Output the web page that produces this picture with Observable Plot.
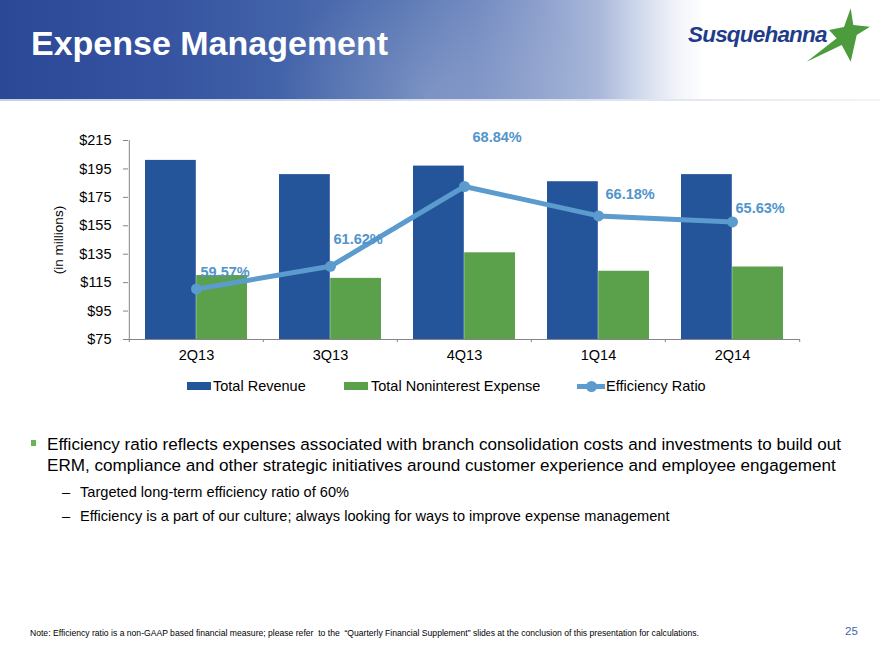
<!DOCTYPE html>
<html>
<head>
<meta charset="utf-8">
<script src="https://cdn.jsdelivr.net/npm/d3@7"></script>
<script src="https://cdn.jsdelivr.net/npm/@observablehq/plot@0.6"></script>
<style>
  body { margin: 0; background: #fff; }
  #slide { position: relative; width: 880px; height: 660px; overflow: hidden;
           font-family: "Liberation Sans", Arial, Helvetica, sans-serif; color: #000; background: #fff; }
  #banner { position: absolute; left: 0; top: 0; width: 880px; height: 100px;
            background: linear-gradient(90deg, #2a4896 0%, #3553a0 18%, #4262a9 32%, #5674b2 45%, #6e87bf 54%,
                        #8c9fcc 61%, #a9b8da 68%, #d3dbed 73%, #f2f4fa 77%, #ffffff 80%, #ffffff 100%); }
  #bannerGlow { position: absolute; left: 0; top: 0; width: 880px; height: 100px;
            background: radial-gradient(ellipse 160px 120px at 430px 95px, rgba(255,255,255,0.18), rgba(255,255,255,0)); }
  #bannerRule { position: absolute; left: 0; top: 99px; width: 880px; height: 2px;
            background: linear-gradient(90deg, #c7d0e4 0%, #dde3ef 70%, #f4f4f4 100%); }
  #title { position: absolute; left: 31px; top: 26px; font-size: 34px; line-height: 1; font-weight: bold; color: #fff; white-space: nowrap; }
  #logoText { position: absolute; left: 688px; top: 24px; font-size: 22.5px; line-height: 1; font-weight: bold;
              font-style: italic; color: #1f3c8a; letter-spacing: -0.8px; white-space: nowrap; }
  #logoStar { position: absolute; left: 0; top: 0; }
  #chart { position: absolute; left: 0; top: 110px; }
  #ylabel { position: absolute; left: 59px; top: 240px; font-size: 13.5px; line-height: 1; white-space: nowrap;
            transform: translate(-50%, -50%) rotate(-90deg); }
  .leg { position: absolute; top: 379px; font-size: 14.5px; line-height: 1; white-space: nowrap; }
  .sw { position: absolute; }
  #bul1 { position: absolute; left: 47px; top: 434px; font-size: 17.1px; line-height: 21px; white-space: nowrap; }
  #sq { position: absolute; left: 31px; top: 440px; width: 5px; height: 6px; background: #6ab356; }
  .sub { position: absolute; font-size: 14.6px; line-height: 1; white-space: nowrap; }
  #note { position: absolute; left: 30px; top: 629px; font-size: 8.6px; line-height: 1; white-space: pre; color: #000; }
  #page { position: absolute; left: 845px; top: 626px; font-size: 11.5px; line-height: 1; color: #3d64b0; }
</style>
</head>
<body>
<div id="slide">
  <div id="banner"></div>
  <div id="bannerGlow"></div>
  <div id="bannerRule"></div>
  <div id="title">Expense Management</div>
  <div id="logoText">Susquehanna</div>
  <svg id="logoStar" width="880" height="100">
    <polygon points="850.7,8.3 853.3,25 870,26.7 856.7,35 850.7,61.7 841.7,45 806.7,61.7 836.7,38.3 829,30 844,27"
             fill="#4c9b3c"/>
  </svg>
  <div id="chart"></div>
  <div id="ylabel">(in millions)</div>

  <div class="sw" style="left:187px;top:382px;width:23.5px;height:8px;background:#24549a"></div>
  <div class="leg" style="left:213px">Total Revenue</div>
  <div class="sw" style="left:344px;top:382px;width:24px;height:8px;background:#5ba14b"></div>
  <div class="leg" style="left:371px">Total Noninterest Expense</div>
  <div class="sw" style="left:577px;top:383.5px;width:28px;height:5px;background:#5b9bce"></div>
  <div class="sw" style="left:586px;top:380.5px;width:11px;height:11px;border-radius:50%;background:#5b9bce"></div>
  <div class="leg" style="left:606px">Efficiency Ratio</div>

  <div id="sq"></div>
  <div id="bul1">Efficiency ratio reflects expenses associated with branch consolidation costs and investments to build out<br>ERM, compliance and other strategic initiatives around customer experience and employee engagement</div>
  <div class="sub" style="left:62px;top:485px">–</div>
  <div class="sub" style="left:80px;top:485px">Targeted long-term efficiency ratio of 60%</div>
  <div class="sub" style="left:62px;top:509px">–</div>
  <div class="sub" style="left:80px;top:509px">Efficiency is a part of our culture; always looking for ways to improve expense management</div>

  <div id="note">Note: Efficiency ratio is a non-GAAP based financial measure; please refer  to the  “Quarterly Financial Supplement” slides at the conclusion of this presentation for calculations.</div>
  <div id="page">25</div>
</div>
<script>
// Quarterly figures ($ millions) and efficiency ratio (%)
const quarters = ["2Q13", "3Q13", "4Q13", "1Q14", "2Q14"];
const totalRevenue = [201, 191, 197, 186, 191];
const noninterestExpense = [120, 118, 136, 123, 126];
const efficiencyRatio = [59.57, 61.62, 68.84, 66.18, 65.63];
const dollarTicks = [75, 95, 115, 135, 155, 175, 195, 215];
const dollarDomain = [75, 215];
const ratioDomain = [55, 73]; // secondary (hidden) axis for the ratio line

// label nudges for the ratio labels, in pixels
const labelDx = [4, 3, 8, 7, 3];
const labelDy = [-17, -27, -49, -22, -14];

const blue = "#24549a", green = "#5ba14b", lineBlue = "#5b9bce", labelBlue = "#5294cb", axisGray = "#858585";

const rows = quarters.map((q, i) => ({
  q, revenue: totalRevenue[i], expense: noninterestExpense[i], ratio: efficiencyRatio[i]
}));

// map the ratio onto the dollar axis range (dual-axis chart)
const ratioToDollar = d3.scaleLinear().domain(ratioDomain).range(dollarDomain);

const W = 880, H = 290, mL = 128, mR = 80, mT = 30, mB = 61;
const bw = (W - mL - mR) / quarters.length;
const plotH = H - mT - mB;
const tickDown = 3 * (dollarDomain[1] - dollarDomain[0]) / plotH;

const ratioLabels = rows.map((d, i) => Plot.text([d], {
  x: "q", y: (r) => ratioToDollar(r.ratio), text: (r) => r.ratio.toFixed(2) + "%",
  textAnchor: "start", dx: labelDx[i], dy: labelDy[i],
  fill: labelBlue, fontWeight: "bold", fontSize: 14.5
}));

const chart = Plot.plot({
  width: W, height: H,
  marginLeft: mL, marginRight: mR, marginTop: mT, marginBottom: mB,
  style: { fontFamily: "'Liberation Sans', Arial, sans-serif", fontSize: "14.5px", color: "#000", background: "transparent", overflow: "visible" },
  x: { domain: quarters, padding: 0 },
  y: { domain: dollarDomain },
  marks: [
    Plot.barY(rows, { x: "q", y1: dollarDomain[0], y2: "revenue", fill: blue, insetLeft: 16, insetRight: bw / 2 }),
    Plot.barY(rows, { x: "q", y1: dollarDomain[0], y2: "expense", fill: green, insetLeft: bw / 2, insetRight: 16 }),
    // axes
    Plot.ruleX([quarters[0]], { dx: -bw / 2, stroke: axisGray }),
    Plot.ruleY([dollarDomain[0]], { stroke: axisGray }),
    Plot.ruleX(quarters, { dx: -bw / 2, y1: dollarDomain[0], y2: dollarDomain[0] - tickDown, stroke: axisGray }),
    Plot.ruleX([quarters[quarters.length - 1]], { dx: bw / 2, y1: dollarDomain[0], y2: dollarDomain[0] - tickDown, stroke: axisGray }),
    Plot.axisY({ ticks: dollarTicks, tickSize: 5, tickPadding: 12, tickFormat: (d) => "$" + d, stroke: axisGray, fill: "#000", label: null, fontSize: 14.5 }),
    Plot.axisX({ tickSize: 0, tickPadding: 10, fill: "#000", label: null, fontSize: 14.5 }),
    // efficiency ratio
    Plot.line(rows, { x: "q", y: (d) => ratioToDollar(d.ratio), stroke: lineBlue, strokeWidth: 5 }),
    Plot.dot(rows, { x: "q", y: (d) => ratioToDollar(d.ratio), r: 5.5, fill: lineBlue }),
    ...ratioLabels
  ]
});
document.getElementById("chart").appendChild(chart);
</script>
</body>
</html>
